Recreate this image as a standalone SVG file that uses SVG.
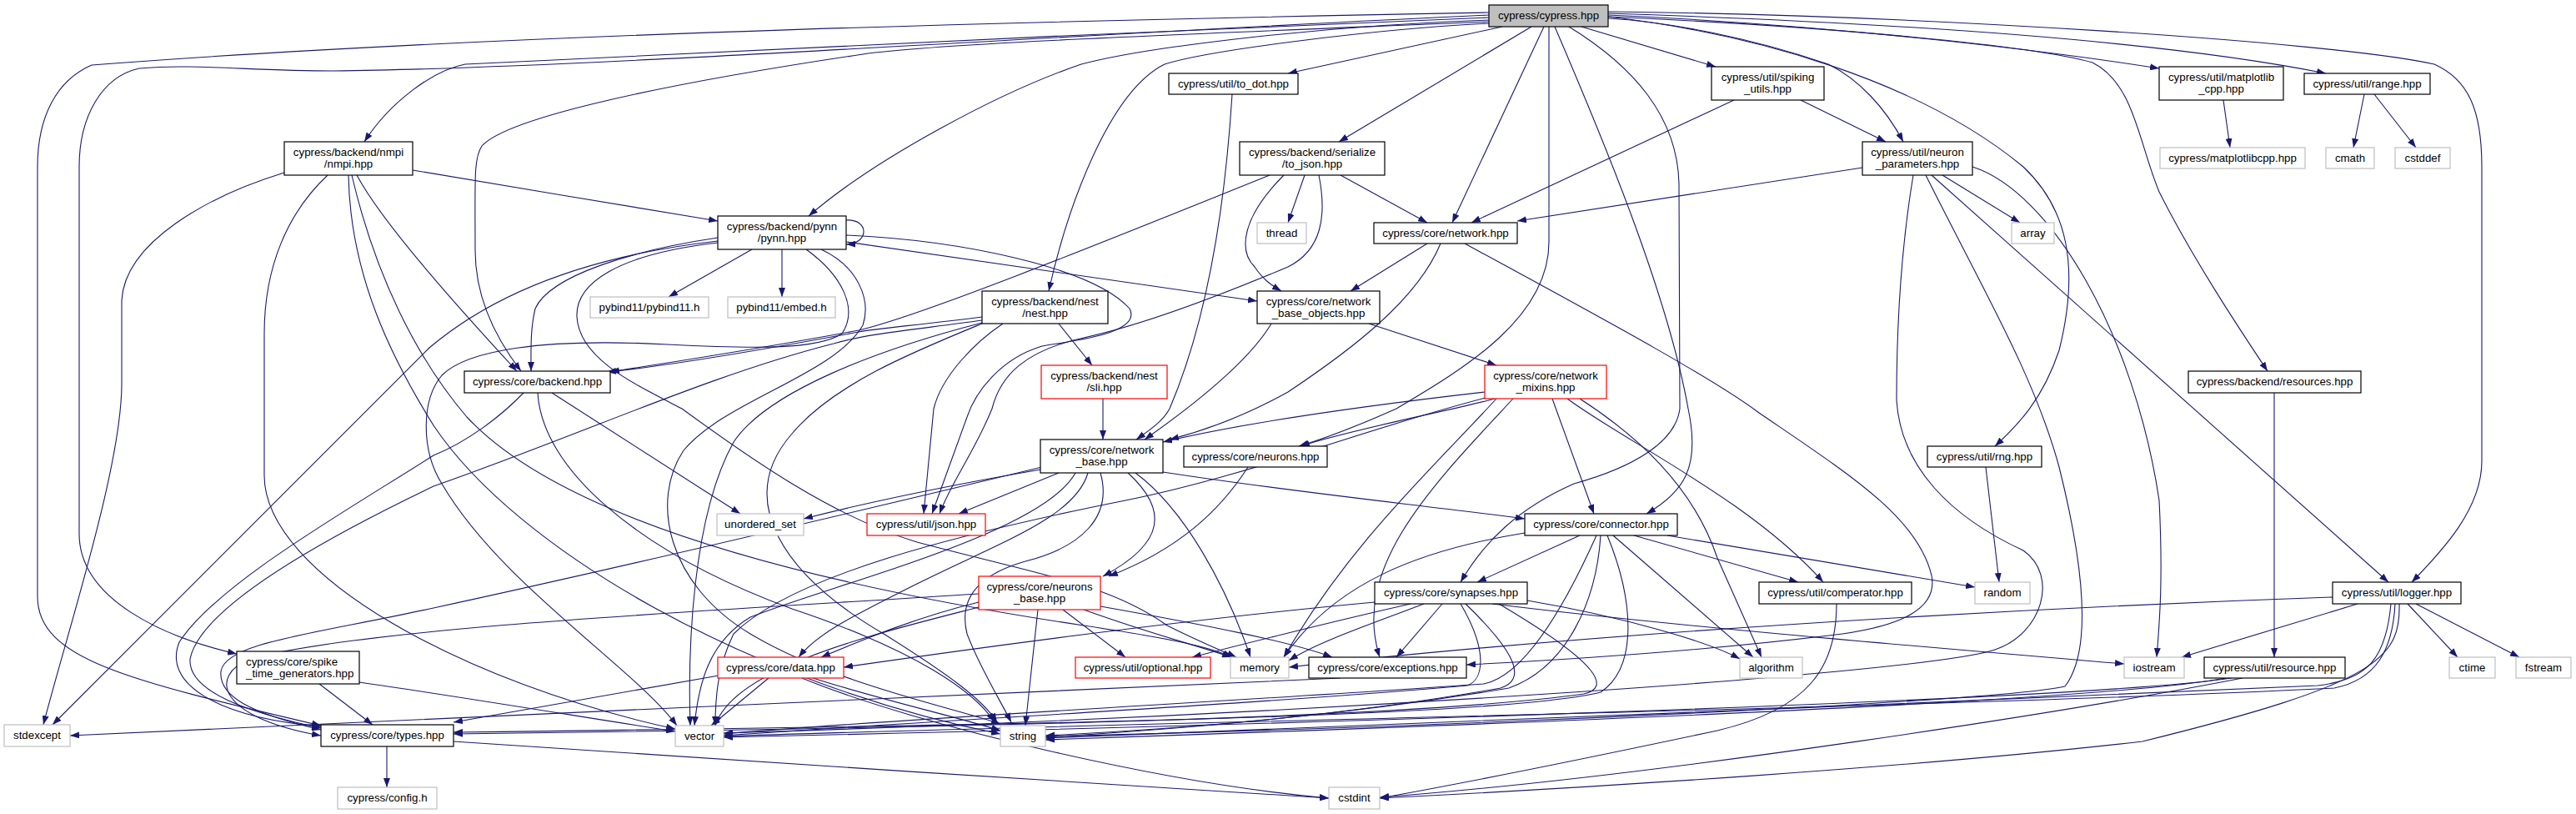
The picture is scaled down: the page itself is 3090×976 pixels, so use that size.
<svg xmlns="http://www.w3.org/2000/svg" width="3090" height="976" viewBox="0 0 3090 976">
<defs>
<marker id="a" markerUnits="userSpaceOnUse" markerWidth="11" markerHeight="8" viewBox="0 0 11 8" refX="11" refY="4" orient="auto"><path d="M0,0 L11,4 L0,8 z" fill="#191970"/></marker>
</defs>
<style>
.e path{fill:none;stroke:#191970;stroke-width:1.1;marker-end:url(#a)}
.n rect{fill:#fff;stroke:#000;stroke-width:1.2}
.n text{font-family:"Liberation Sans",Arial,sans-serif;font-size:13.3px;text-anchor:middle;fill:#000}
.x rect{stroke:#bfbfbf}
.r rect{stroke:#ff0000}
.root rect{fill:#bfbfbf}
</style>
<rect width="3090" height="976" fill="#fff"/>
<g class="e" id="edges">
<path d="M1786,21 C1400,38 900,58 558,77 C520,84 468,122 437,170"/>
<path d="M1786,15 C1300,24 600,40 110,78 C68,96 45,140 45,200 L45,715 C45,790 150,815 385,870"/>
<path d="M1786,18 C1300,40 700,82 400,85 C300,85 230,76 167,82 C122,92 95,140 95,200 L95,640 C95,720 200,765 284,784"/>
<path d="M1786,24 C1600,30 1380,55 1297,77 C1200,110 1050,190 970,259"/>
<path d="M1786,26 C1450,40 1120,52 1035,65 C800,100 610,140 578,175 C568,190 570,215 570,300 C570,360 598,410 625,445"/>
<path d="M1786,28 C1650,35 1450,60 1397,77 C1330,110 1280,250 1258,349"/>
<path d="M1802,32 L1545,88"/>
<path d="M1837,32 L1606,170"/>
<path d="M1852,32 L1742,267"/>
<path d="M1858,32 L1858,290 C1858,380 1760,440 1675,490 C1630,510 1592,525 1558,535"/>
<path d="M1882,32 C1960,80 2012,140 2014,220 L2015,490 C2010,530 1960,560 1888,580 C1820,610 1780,650 1752,698"/>
<path d="M1865,32 C1920,160 2000,350 2025,490 C2040,560 2020,590 1975,616"/>
<path d="M1897,32 L2058,80"/>
<path d="M1929,22 C2000,26 2100,45 2193,77 C2230,95 2262,130 2283,170"/>
<path d="M1929,20 C2100,40 2300,95 2427,200 C2480,250 2495,320 2470,420 C2450,480 2420,510 2393,535"/>
<path d="M1929,18 C2200,30 2450,60 2590,82"/>
<path d="M1929,16 C2300,28 2600,50 2790,88"/>
<path d="M1929,14 C2300,18 2800,50 2920,77 C2960,95 2977,130 2977,200 L2977,553 C2977,610 2930,660 2893,698"/>
<path d="M1929,20 C2200,32 2440,55 2510,75 C2560,100 2565,170 2590,230 C2630,310 2690,400 2720,445"/>
<path d="M495,204 C600,222 760,248 861,265"/>
<path d="M428,210 C460,270 560,380 620,445"/>
<path d="M341,207 C250,235 150,290 146,360 L146,460 C146,560 80,760 52,869"/>
<path d="M393,210 C345,255 317,320 317,400 L317,570 C317,690 560,820 810,874"/>
<path d="M418,210 C420,330 470,430 520,510 C620,660 900,820 1200,880"/>
<path d="M422,210 C450,330 500,430 560,500 C700,650 1100,720 1300,750 C1400,765 1450,775 1478,788"/>
<path d="M902,299 L802,356"/>
<path d="M938,299 L938,356"/>
<path d="M1015,264 C1042,262 1044,292 1015,293"/>
<path d="M861,285 C760,300 660,330 642,370 C636,395 637,420 637,445"/>
<path d="M861,289 C720,305 600,345 515,417 L63,869"/>
<path d="M1015,282 C1150,288 1310,320 1355,370 C1370,400 1290,408 1250,415 C1200,430 1170,470 1160,500 L1118,616"/>
<path d="M1015,290 L1508,361"/>
<path d="M861,291 C740,305 690,340 692,380 C695,430 760,460 818,490 C900,550 1000,620 1100,650 C1250,690 1330,700 1400,750 C1440,770 1465,780 1483,788"/>
<path d="M967,299 C1010,330 1030,370 1010,400 C980,420 900,418 800,413 C650,405 560,420 530,450 C505,480 505,540 530,580 C600,700 760,800 812,870"/>
<path d="M985,299 C1030,320 1045,360 1035,390 C1000,450 870,480 820,540 C780,600 800,700 900,760 C1000,820 1150,850 1200,868"/>
<path d="M1478,113 C1470,240 1450,380 1403,490 C1395,505 1380,515 1363,527"/>
<path d="M1565,210 L1545,267"/>
<path d="M1608,210 L1712,267"/>
<path d="M1540,210 C1490,260 1485,300 1505,320 C1515,335 1525,342 1537,349"/>
<path d="M1582,210 C1592,260 1585,300 1545,320 C1450,360 1360,392 1300,405 C1230,420 1200,450 1190,490 C1170,540 1140,580 1127,616"/>
<path d="M1523,210 C1300,300 1100,380 1030,396 C900,420 800,435 732,446"/>
<path d="M1712,292 L1620,349"/>
<path d="M1728,292 C1700,360 1620,420 1545,470 C1500,495 1450,515 1403,527"/>
<path d="M1757,292 C1900,370 2050,450 2110,495 C2220,570 2300,620 2317,690 C2325,730 2280,750 2210,760 C2050,780 1900,790 1759,797"/>
<path d="M1525,388 C1500,430 1440,480 1373,527"/>
<path d="M1642,388 L1795,438"/>
<path d="M1270,388 L1310,438"/>
<path d="M1203,388 C1170,410 1130,450 1120,490 L1108,616"/>
<path d="M1178,380 C1100,390 1050,394 1030,398 C900,422 790,440 728,446"/>
<path d="M1178,384 C1100,395 1040,400 1000,412 C850,450 700,520 520,583 C380,650 240,730 228,790 C225,830 300,855 385,873"/>
<path d="M1178,387 C1050,420 920,470 880,530 C830,620 825,780 828,870"/>
<path d="M1178,388 C1100,420 1000,460 950,520 C880,600 940,690 1060,760 C1140,810 1180,840 1196,866"/>
<path d="M662,471 L888,616"/>
<path d="M645,471 C650,560 760,660 950,730 C1100,780 1170,830 1193,866"/>
<path d="M628,471 C600,500 560,530 520,546 C420,610 260,700 215,770 C195,820 260,860 385,871"/>
<path d="M1323,478 L1323,527"/>
<path d="M1248,563 C1150,580 1050,600 964,622"/>
<path d="M1270,567 L1150,616"/>
<path d="M1250,560 C1000,620 700,690 520,729 C380,760 270,770 265,805 C262,835 300,855 385,875"/>
<path d="M1290,567 C1250,640 1000,700 900,740 C850,770 838,820 833,870"/>
<path d="M1305,567 C1290,620 1200,650 1100,700 C1020,740 980,760 958,788"/>
<path d="M1320,567 C1335,620 1297,656 1230,673 C1170,690 1150,720 1160,760 C1175,800 1200,840 1213,866"/>
<path d="M1353,567 C1400,610 1400,650 1323,691"/>
<path d="M1362,567 C1420,610 1470,700 1500,788"/>
<path d="M1395,566 C1550,590 1700,605 1829,622"/>
<path d="M1497,560 C1463,613 1413,659 1330,691"/>
<path d="M1174,722 C1100,740 1040,765 985,788"/>
<path d="M1245,731 L1230,870"/>
<path d="M1275,731 L1350,788"/>
<path d="M1300,731 C1380,760 1440,775 1477,788"/>
<path d="M1320,727 C1450,750 1550,770 1598,788"/>
<path d="M1174,712 C900,730 450,750 300,790 C250,810 260,860 385,882"/>
<path d="M1174,728 C1050,760 880,800 858,870"/>
<path d="M862,810 L544,866"/>
<path d="M922,813 L853,870"/>
<path d="M975,813 C1060,840 1150,860 1200,876"/>
<path d="M962,813 C1100,870 1400,940 1594,957"/>
<path d="M1895,642 L1772,698"/>
<path d="M1829,639 C1700,660 1600,700 1540,788"/>
<path d="M1915,642 C1880,720 1830,810 1780,820 C1500,840 1100,860 868,880"/>
<path d="M1920,642 C1915,720 1880,800 1810,825 C1600,860 1400,875 1254,882"/>
<path d="M1928,642 C1960,720 1965,800 1920,830 C1800,860 1200,870 544,878"/>
<path d="M1935,642 L2103,788"/>
<path d="M1960,642 L2157,698"/>
<path d="M2000,642 L2369,704"/>
<path d="M1730,724 L1675,788"/>
<path d="M1649,722 C1400,745 1150,780 1012,800"/>
<path d="M1692,724 C1600,745 1500,770 1430,788"/>
<path d="M1708,724 C1640,750 1580,770 1546,792"/>
<path d="M1832,720 C1950,740 2050,770 2087,790"/>
<path d="M1790,724 C2000,750 2300,775 2548,796"/>
<path d="M1752,724 C1785,780 1780,815 1760,822 C1500,845 1100,865 868,882"/>
<path d="M1758,724 C1822,786 1830,815 1800,825 C1600,860 1400,875 1254,884"/>
<path d="M1798,724 C1925,799 1930,825 1900,832 C1700,860 1200,872 544,880"/>
<path d="M1793,478 C1750,490 1620,515 1560,535"/>
<path d="M1781,470 C1650,485 1500,505 1395,530"/>
<path d="M1795,478 C1720,560 1620,650 1540,788"/>
<path d="M1815,478 C1720,580 1620,680 1655,788"/>
<path d="M1862,478 L1912,616"/>
<path d="M1880,478 C1950,530 2100,600 2187,698"/>
<path d="M1895,478 C1960,520 2030,580 2060,669 L2113,788"/>
<path d="M1790,475 C1650,510 1500,570 1350,600 C1150,640 950,690 880,760 C860,800 858,840 858,870"/>
<path d="M2828,724 L2617,788"/>
<path d="M2888,724 L2948,788"/>
<path d="M2898,724 L3022,788"/>
<path d="M2798,716 C2400,730 1900,760 1546,800"/>
<path d="M2873,724 C2870,780 2850,815 2800,825 C2300,850 1200,870 868,883"/>
<path d="M2878,724 C2880,790 2850,820 2570,889 C2300,920 1900,945 1655,957"/>
<path d="M2868,724 C2862,790 2840,815 2780,822 C2300,845 1600,870 1254,885"/>
<path d="M2677,813 C2500,840 1500,870 868,884"/>
<path d="M2670,813 C2500,845 1600,875 1254,887"/>
<path d="M2690,813 C2500,850 2000,930 1655,956"/>
<path d="M2330,210 L2423,267"/>
<path d="M2234,201 L1820,265"/>
<path d="M2366,200 C2460,230 2560,400 2590,600 C2595,700 2590,750 2587,788"/>
<path d="M2317,210 L2865,698"/>
<path d="M2295,210 C2280,300 2275,400 2275,480 C2280,560 2340,620 2427,660 C2470,690 2450,760 2393,779 C2300,810 1500,860 868,879"/>
<path d="M2310,210 C2380,350 2440,450 2470,560 C2500,680 2510,780 2477,823 C2400,840 1800,870 1254,883"/>
<path d="M2160,120 L2262,170"/>
<path d="M2080,120 L1765,267"/>
<path d="M2382,560 L2398,698"/>
<path d="M2203,724 C2203,800 2170,850 2060,876 C1900,910 1750,940 1655,957"/>
<path d="M2728,471 L2728,788"/>
<path d="M2836,113 L2823,177"/>
<path d="M2848,113 L2898,177"/>
<path d="M2667,120 L2675,177"/>
<path d="M464,895 L464,944"/>
<path d="M544,889 C800,905 1300,940 1594,957"/>
<path d="M1608,813 C1300,830 500,860 84,882"/>
<path d="M383,820 L447,869"/>
<path d="M431,818 C550,835 700,860 810,877"/>
</g>
<g id="n_cypress" class="n root"><rect x="1786" y="6" width="143" height="26"/><text x="1857.5" y="23">cypress/cypress.hpp</text></g>
<g id="n_nmpi" class="n"><rect x="341" y="170" width="154" height="40"/><text x="418" y="186.5">cypress/backend/nmpi</text><text x="418" y="201">/nmpi.hpp</text></g>
<g id="n_spike" class="n"><rect x="284" y="781" width="147" height="39"/><text x="295" y="797.5" style="text-anchor:start">cypress/core/spike</text><text x="295" y="812" style="text-anchor:start">_time_generators.hpp</text></g>
<g id="n_stdexcept" class="n x"><rect x="5" y="869" width="79" height="26"/><text x="44.5" y="886">stdexcept</text></g>
<g id="n_types" class="n"><rect x="385" y="869" width="159" height="26"/><text x="464.5" y="886">cypress/core/types.hpp</text></g>
<g id="n_config" class="n x"><rect x="405" y="944" width="119" height="26"/><text x="464.5" y="961">cypress/config.h</text></g>
<g id="n_pynn" class="n"><rect x="861" y="259" width="154" height="40"/><text x="938" y="275.5">cypress/backend/pynn</text><text x="938" y="290">/pynn.hpp</text></g>
<g id="n_pybind11" class="n x"><rect x="708" y="356" width="142" height="25"/><text x="779" y="373">pybind11/pybind11.h</text></g>
<g id="n_embed" class="n x"><rect x="873" y="356" width="129" height="25"/><text x="937.5" y="373">pybind11/embed.h</text></g>
<g id="n_backend" class="n"><rect x="557" y="445" width="175" height="26"/><text x="644.5" y="462">cypress/core/backend.hpp</text></g>
<g id="n_unordered" class="n x"><rect x="860" y="616" width="104" height="26"/><text x="912" y="633">unordered_set</text></g>
<g id="n_data" class="n r"><rect x="861" y="788" width="151" height="25"/><text x="936.5" y="805">cypress/core/data.hpp</text></g>
<g id="n_vector" class="n x"><rect x="810" y="870" width="58" height="25"/><text x="839" y="887">vector</text></g>
<g id="n_todot" class="n"><rect x="1402" y="88" width="155" height="25"/><text x="1479.5" y="105">cypress/util/to_dot.hpp</text></g>
<g id="n_tojson" class="n"><rect x="1487" y="170" width="174" height="40"/><text x="1574" y="186.5">cypress/backend/serialize</text><text x="1574" y="201">/to_json.hpp</text></g>
<g id="n_thread" class="n x"><rect x="1508" y="267" width="59" height="25"/><text x="1537.5" y="284">thread</text></g>
<g id="n_nest" class="n"><rect x="1178" y="349" width="151" height="39"/><text x="1253.5" y="365.5">cypress/backend/nest</text><text x="1253.5" y="380">/nest.hpp</text></g>
<g id="n_nbo" class="n"><rect x="1508" y="349" width="147" height="39"/><text x="1581.5" y="365.5">cypress/core/network</text><text x="1581.5" y="380">_base_objects.hpp</text></g>
<g id="n_sli" class="n r"><rect x="1249" y="438" width="151" height="40"/><text x="1324.5" y="454.5">cypress/backend/nest</text><text x="1324.5" y="469">/sli.hpp</text></g>
<g id="n_nb" class="n"><rect x="1248" y="527" width="147" height="40"/><text x="1321.5" y="543.5">cypress/core/network</text><text x="1321.5" y="558">_base.hpp</text></g>
<g id="n_neurons" class="n"><rect x="1420" y="535" width="172" height="25"/><text x="1506" y="552">cypress/core/neurons.hpp</text></g>
<g id="n_json" class="n r"><rect x="1040" y="616" width="142" height="26"/><text x="1111" y="633">cypress/util/json.hpp</text></g>
<g id="n_nbase" class="n r"><rect x="1174" y="691" width="146" height="40"/><text x="1247" y="707.5">cypress/core/neurons</text><text x="1247" y="722">_base.hpp</text></g>
<g id="n_optional" class="n r"><rect x="1290" y="788" width="162" height="25"/><text x="1371" y="805">cypress/util/optional.hpp</text></g>
<g id="n_memory" class="n x"><rect x="1476" y="788" width="70" height="25"/><text x="1511" y="805">memory</text></g>
<g id="n_string" class="n x"><rect x="1200" y="870" width="54" height="25"/><text x="1227" y="887">string</text></g>
<g id="n_network" class="n"><rect x="1648" y="267" width="172" height="25"/><text x="1734" y="284">cypress/core/network.hpp</text></g>
<g id="n_mixins" class="n r"><rect x="1781" y="438" width="146" height="40"/><text x="1854" y="454.5">cypress/core/network</text><text x="1854" y="469">_mixins.hpp</text></g>
<g id="n_connector" class="n"><rect x="1829" y="616" width="183" height="26"/><text x="1920.5" y="633">cypress/core/connector.hpp</text></g>
<g id="n_synapses" class="n"><rect x="1649" y="698" width="183" height="26"/><text x="1740.5" y="715">cypress/core/synapses.hpp</text></g>
<g id="n_exceptions" class="n"><rect x="1570" y="788" width="189" height="25"/><text x="1664.5" y="805">cypress/core/exceptions.hpp</text></g>
<g id="n_cstdint" class="n x"><rect x="1594" y="944" width="61" height="26"/><text x="1624.5" y="961">cstdint</text></g>
<g id="n_spiking" class="n"><rect x="2053" y="80" width="135" height="40"/><text x="2120.5" y="96.5">cypress/util/spiking</text><text x="2120.5" y="111">_utils.hpp</text></g>
<g id="n_nparams" class="n"><rect x="2234" y="170" width="132" height="40"/><text x="2300" y="186.5">cypress/util/neuron</text><text x="2300" y="201">_parameters.hpp</text></g>
<g id="n_array" class="n x"><rect x="2413" y="267" width="51" height="25"/><text x="2438.5" y="284">array</text></g>
<g id="n_rng" class="n"><rect x="2312" y="535" width="137" height="25"/><text x="2380.5" y="552">cypress/util/rng.hpp</text></g>
<g id="n_comperator" class="n"><rect x="2110" y="698" width="183" height="26"/><text x="2201.5" y="715">cypress/util/comperator.hpp</text></g>
<g id="n_random" class="n x"><rect x="2369" y="698" width="66" height="26"/><text x="2402" y="715">random</text></g>
<g id="n_algorithm" class="n x"><rect x="2087" y="788" width="75" height="25"/><text x="2124.5" y="805">algorithm</text></g>
<g id="n_iostream" class="n x"><rect x="2548" y="788" width="72" height="25"/><text x="2584" y="805">iostream</text></g>
<g id="n_matplotlib" class="n"><rect x="2590" y="80" width="149" height="40"/><text x="2664.5" y="96.5">cypress/util/matplotlib</text><text x="2664.5" y="111">_cpp.hpp</text></g>
<g id="n_range" class="n"><rect x="2764" y="88" width="151" height="25"/><text x="2839.5" y="105">cypress/util/range.hpp</text></g>
<g id="n_mplcpp" class="n x"><rect x="2591" y="177" width="174" height="25"/><text x="2678" y="194">cypress/matplotlibcpp.hpp</text></g>
<g id="n_cmath" class="n x"><rect x="2790" y="177" width="58" height="25"/><text x="2819" y="194">cmath</text></g>
<g id="n_cstddef" class="n x"><rect x="2873" y="177" width="66" height="25"/><text x="2906" y="194">cstddef</text></g>
<g id="n_resources" class="n"><rect x="2625" y="445" width="207" height="26"/><text x="2728.5" y="462">cypress/backend/resources.hpp</text></g>
<g id="n_logger" class="n"><rect x="2798" y="698" width="154" height="26"/><text x="2875" y="715">cypress/util/logger.hpp</text></g>
<g id="n_resource" class="n"><rect x="2644" y="788" width="169" height="25"/><text x="2728.5" y="805">cypress/util/resource.hpp</text></g>
<g id="n_ctime" class="n x"><rect x="2938" y="788" width="55" height="25"/><text x="2965.5" y="805">ctime</text></g>
<g id="n_fstream" class="n x"><rect x="3018" y="788" width="66" height="25"/><text x="3051" y="805">fstream</text></g>
</svg>
